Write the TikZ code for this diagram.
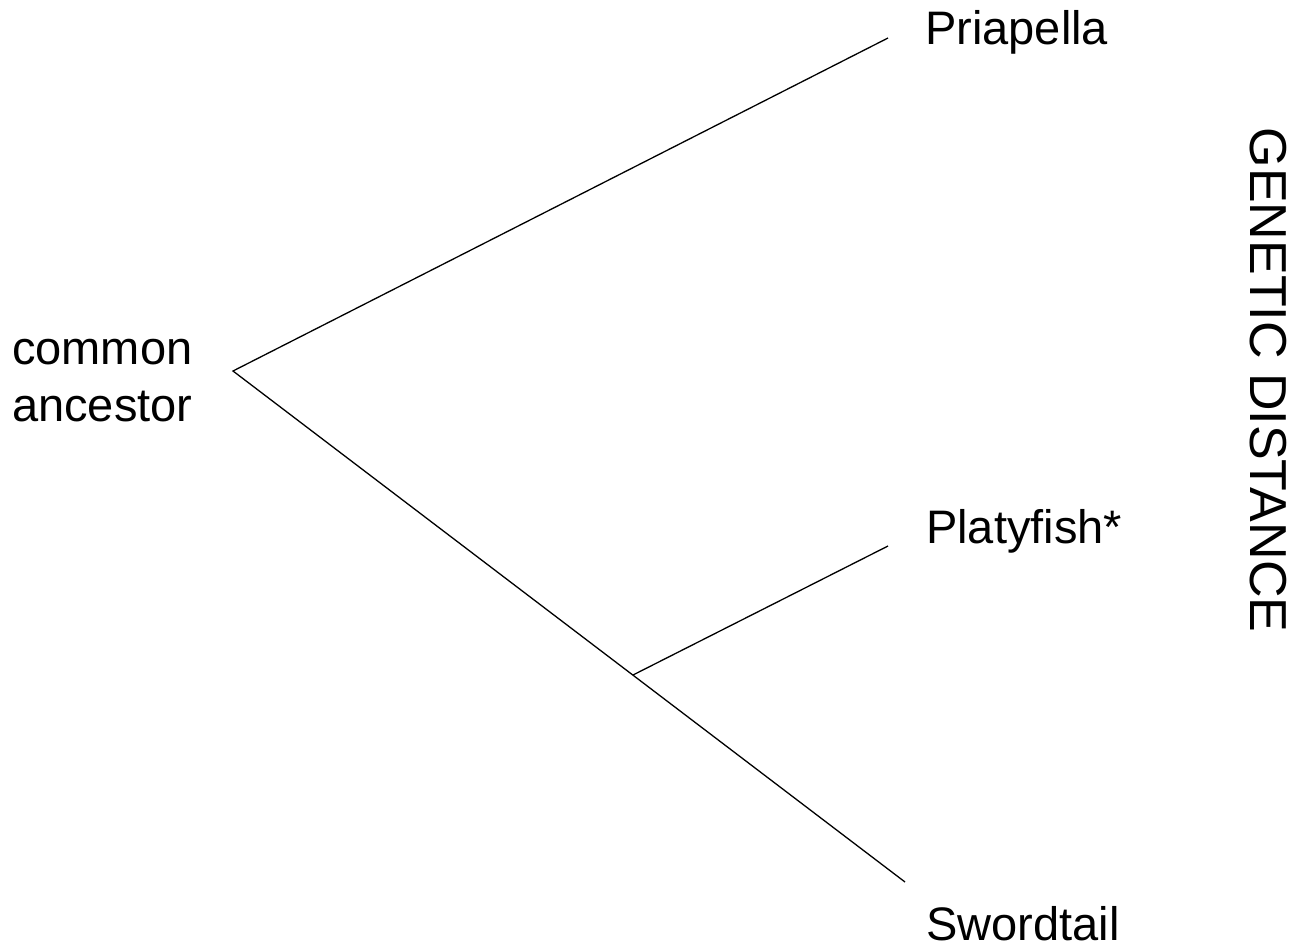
\documentclass[tikz,border=0pt]{standalone}
\usepackage{fontspec}
\setmainfont{Liberation Sans}
\begin{document}
\begin{tikzpicture}[x=1pt,y=-1pt,
  branch/.style={draw=black,line width=1.3pt},
  taxon/.style={inner sep=0pt,anchor=base west,font=\fontsize{47}{57}\selectfont},
]
\useasboundingbox (0,0) rectangle (1296,948);
% tree vertices
\coordinate (root) at (233,371);
\coordinate (split) at (633,675);
\coordinate (tipP) at (888,38);
\coordinate (tipPl) at (888,546);
\coordinate (tipS) at (905,882);
% branches
\draw[branch] (tipP) -- (root) -- (tipS);
\draw[branch] (split) -- (tipPl);
% labels
\node[taxon] (priapella) at (925,44) {Priapella};
\node[taxon] (platyfish) at (926,543) {Platyfish*};
\node[taxon] (swordtail) at (926,940) {Swordtail};
\node[taxon,align=left] (ancestor) at (12,421) {common\\ancestor};
\node[inner sep=0pt,rotate=-90,font=\fontsize{52}{60}\selectfont] (distance) at (1268,380) {GENETIC DISTANCE};
\end{tikzpicture}
\end{document}
